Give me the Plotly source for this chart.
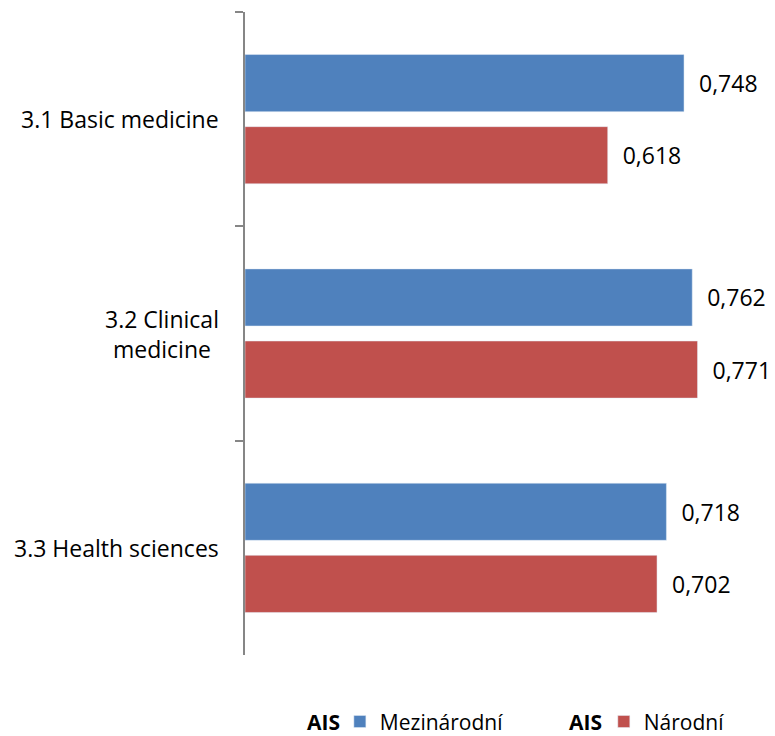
import plotly.graph_objects as go

# Data
categories = ['3.1 Basic medicine', '3.2 Clinical medicine', '3.3 Health sciences']
category_labels = ['3.1 Basic medicine', '3.2 Clinical<br>medicine', '3.3 Health sciences']
mezinarodni = [0.748, 0.762, 0.718]
narodni = [0.618, 0.771, 0.702]

BLUE = '#4F81BD'
RED = '#C0504D'
FONT = 'Open Sans, sans-serif'
NB = '\u00a0\u00a0'  # little gap between bar end and value label

fig = go.Figure()
fig.add_trace(go.Bar(
    y=categories, x=mezinarodni, orientation='h', name='Mezinárodní',
    marker=dict(color=BLUE), texttemplate=NB + '%{x:.3f}',
    textposition='outside', cliponaxis=False, constraintext='none',
    textfont=dict(size=23, color='#000000'), legend='legend', showlegend=True
))
fig.add_trace(go.Bar(
    y=categories, x=narodni, orientation='h', name='Národní',
    marker=dict(color=RED), texttemplate=NB + '%{x:.3f}',
    textposition='outside', cliponaxis=False, constraintext='none',
    textfont=dict(size=23, color='#000000'), legend='legend2', showlegend=True
))

# category labels, centred multi-line like the original
for cat, lab in zip(categories, category_labels):
    fig.add_annotation(x=0, xref='paper', y=cat, yref='y', text=lab,
                       showarrow=False, xanchor='right', xshift=-24,
                       align='center', font=dict(size=23, color='#000000'))

# bold "AIS" prefixes in front of the legend entries
for xp in [0.113, 0.607]:
    fig.add_annotation(x=xp, xref='paper', y=-0.104, yref='paper', text='<b>AIS</b>',
                       showarrow=False, xanchor='left', yanchor='middle',
                       font=dict(size=21, color='#000000'))

# page body has an 8px margin, so the figure is 8px smaller than the window
fig.update_layout(
    width=767, height=728,
    margin=dict(l=237, r=0, t=4, b=81, autoexpand=False),
    paper_bgcolor='white', plot_bgcolor='white',
    font=dict(family=FONT, size=21, color='#000000'),
    separators=',.',
    showlegend=True,
    barmode='group', bargap=0.327, bargroupgap=0.208,
    xaxis=dict(range=[0, 0.903], visible=False),
    yaxis=dict(autorange='reversed', showticklabels=False, showline=True,
               linecolor='#868686', linewidth=2, ticks='outside', ticklen=8,
               tickcolor='#868686', tickwidth=2, tickson='boundaries',
               showgrid=False, zeroline=False),
    legend=dict(orientation='h', x=0.179, y=-0.104, xanchor='left', yanchor='middle',
                font=dict(size=21)),
    legend2=dict(orientation='h', x=0.677, y=-0.104, xanchor='left', yanchor='middle',
                 font=dict(size=21)),
)

fig.write_html('out.html')
